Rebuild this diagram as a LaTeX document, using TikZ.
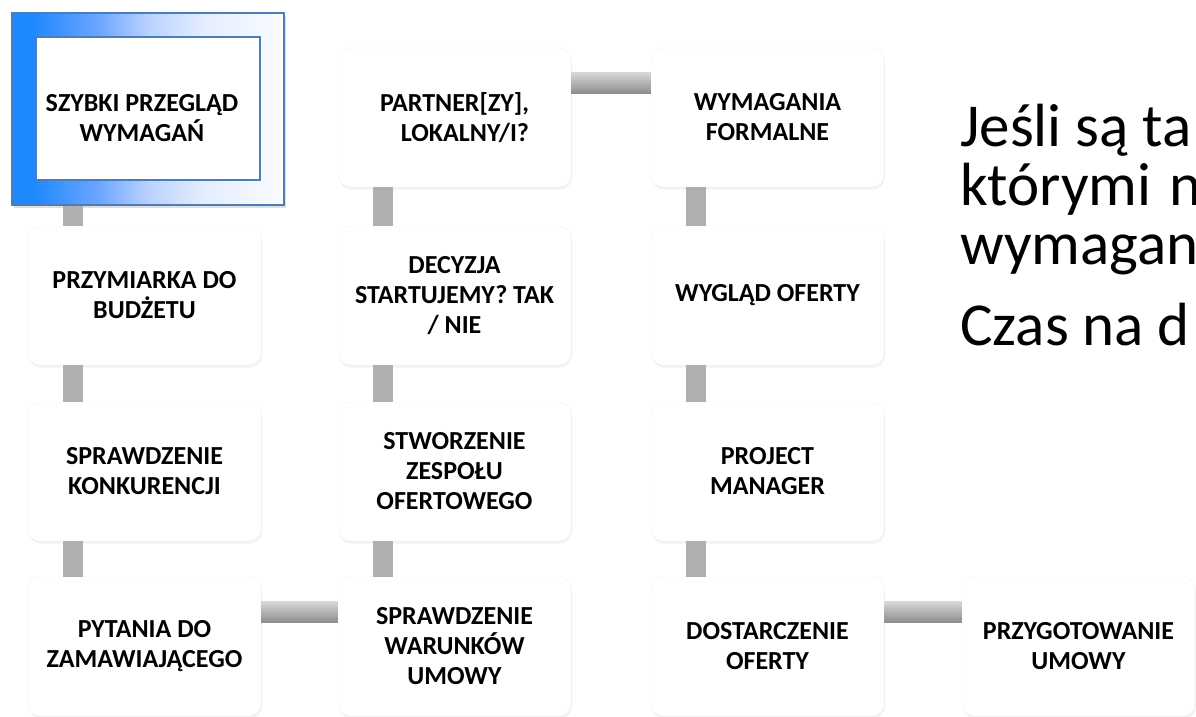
\documentclass[tikz,border=0pt]{standalone}
\usepackage{fontspec}
\setmainfont{Carlito}
\newfontfamily\boxfont{Carlito}
\usetikzlibrary{shadows}
\definecolor{hlblue}{RGB}{30,136,255}
\definecolor{hlA}{RGB}{110,165,255}
\definecolor{hlB}{RGB}{185,210,255}
\definecolor{hlC}{RGB}{228,237,255}
\definecolor{hlD}{RGB}{250,252,255}
\definecolor{hlborder}{RGB}{74,126,187}
\definecolor{barcol}{RGB}{175,175,175}
\definecolor{hbarlight}{RGB}{215,215,215}
\definecolor{hbardark}{RGB}{140,140,140}
\pgfdeclarehorizontalshading{hlshade}{100bp}{color(0bp)=(hlblue); color(29bp)=(hlblue); color(41bp)=(hlA); color(50bp)=(hlB); color(60bp)=(hlC); color(75bp)=(hlD); color(100bp)=(hlD)}
\tikzset{
  stepbox/.style={rounded corners=12pt, fill=white, draw=black!5, line width=0.4pt,
    minimum width=233pt, minimum height=139pt, inner sep=0pt, align=center,
    font=\boxfont\bfseries\fontsize{26}{30}\selectfont,
    drop shadow={opacity=0.10, shadow xshift=1pt, shadow yshift=-2.5pt}},
  boxtext/.style={inner sep=0pt, align=center, font=\boxfont\bfseries\fontsize{26}{30}\selectfont},
  vbar/.style={fill=barcol},
  hbar/.style={top color=hbarlight, bottom color=hbardark},
  bigtext/.style={anchor=base west, inner sep=0pt, font=\fontsize{61}{64}\selectfont}
}
\begin{document}
\begin{tikzpicture}[x=1pt,y=1pt]
\fill[white] (0,0) rectangle (1196,-717);
\clip (0,0) rectangle (1196,-717);
\useasboundingbox (0,0) rectangle (1196,-717);

% highlighted first box
\node[minimum width=272pt, minimum height=192pt, inner sep=0pt, shading=hlshade,
      draw=hlborder, line width=1.3pt,
      drop shadow={opacity=0.25, shadow xshift=1.5pt, shadow yshift=-3pt}]
      (b1f) at (148,-109) {};
\node[minimum width=224pt, minimum height=143pt, inner sep=0pt, fill=white,
      draw=hlborder, line width=1.2pt] (b1) at (148,-108.5) {};
\node[boxtext] (b1t) at (142,-118) {SZYBKI PRZEGLĄD\\WYMAGAŃ};

% column 1
\node[stepbox] (b2) at (144.5,-295.5) {PRZYMIARKA DO\\BUDŻETU};
\node[stepbox] (b3) at (144.5,-471.5) {SPRAWDZENIE\\KONKURENCJI};
\node[stepbox] (b4) at (144.5,-646.5) {PYTANIA DO\\ZAMAWIAJĄCEGO};
% column 2
\node[stepbox] (b5) at (454.5,-646.5) {SPRAWDZENIE\\WARUNKÓW\\UMOWY};
\node[stepbox] (b6) at (454.5,-471.5) {STWORZENIE\\ZESPOŁU\\OFERTOWEGO};
\node[stepbox] (b7) at (454.5,-295.5) {DECYZJA\\STARTUJEMY? TAK\\/ NIE};
\node[stepbox, align=right] (b8) at (454.5,-117.5) {PARTNER[ZY],\\LOKALNY/I?};
% column 3
\node[stepbox] (b9) at (767.5,-117.5) {WYMAGANIA\\FORMALNE};
\node[stepbox] (b10) at (767.5,-295.5) {WYGLĄD OFERTY};
\node[stepbox] (b11) at (767.5,-471.5) {PROJECT\\MANAGER};
\node[stepbox] (b12) at (767.5,-646.5) {DOSTARCZENIE\\OFERTY};
% column 4
\node[stepbox] (b13) at (1078.5,-646.5) {PRZYGOTOWANIE\\UMOWY};

% vertical connectors
\path[vbar] ([xshift=-85pt]b1f.south) rectangle ([xshift=-61.5pt]b2.north);
\path[vbar] ([xshift=-81.5pt]b2.south) rectangle ([xshift=-61.5pt]b3.north);
\path[vbar] ([xshift=-81.5pt]b3.south) rectangle ([xshift=-61.5pt]b4.north);
\path[vbar] ([xshift=-81.5pt]b5.north) rectangle ([xshift=-61.5pt]b6.south);
\path[vbar] ([xshift=-81.5pt]b6.north) rectangle ([xshift=-61.5pt]b7.south);
\path[vbar] ([xshift=-81.5pt]b7.north) rectangle ([xshift=-61.5pt]b8.south);
\path[vbar] ([xshift=-81.5pt]b9.south) rectangle ([xshift=-61.5pt]b10.north);
\path[vbar] ([xshift=-81.5pt]b10.south) rectangle ([xshift=-61.5pt]b11.north);
\path[vbar] ([xshift=-81.5pt]b11.south) rectangle ([xshift=-61.5pt]b12.north);

% horizontal connectors
\path[hbar] ([yshift=45pt]b4.east) rectangle ([yshift=24pt]b5.west);
\path[hbar] ([yshift=45pt]b8.east) rectangle ([yshift=24pt]b9.west);
\path[hbar] ([yshift=45pt]b12.east) rectangle ([yshift=24pt]b13.west);

% right-hand text
\node[bigtext] (t1) at (960,-146) {Jeśli są ta};
\node[bigtext] (t2) at (960,-205) {którymi\hspace{18pt}n};
\node[bigtext] (t3) at (960,-264) {wymagan};
\node[bigtext] (t4) at (960,-345) {Czas na d};
\end{tikzpicture}
\end{document}
